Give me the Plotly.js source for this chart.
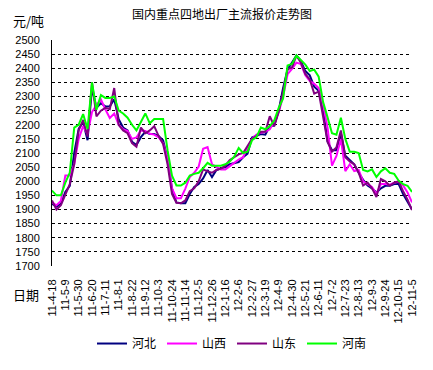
<!DOCTYPE html>
<html>
<head>
<meta charset="utf-8">
<script src="https://cdn.plot.ly/plotly-3.0.1.min.js"></script>
<style>html,body{margin:0;padding:0;background:#fff;}#chart{width:433px;height:370px;}</style>
</head>
<body>
<div id="chart"></div>
<script>
// Weekly sample dates
const dates = [
"2011-04-18","2011-04-25","2011-05-02","2011-05-09","2011-05-16","2011-05-23","2011-05-30","2011-06-06","2011-06-13","2011-06-20",
"2011-06-27","2011-07-04","2011-07-11","2011-07-18","2011-07-25","2011-08-01","2011-08-08","2011-08-15","2011-08-22","2011-08-29",
"2011-09-05","2011-09-12","2011-09-19","2011-09-26","2011-10-03","2011-10-10","2011-10-17","2011-10-24","2011-10-31","2011-11-07",
"2011-11-14","2011-11-21","2011-11-28","2011-12-05","2011-12-12","2011-12-19","2011-12-26","2012-01-02","2012-01-09","2012-01-16",
"2012-01-23","2012-01-30","2012-02-06","2012-02-13","2012-02-20","2012-02-27","2012-03-05","2012-03-12","2012-03-19","2012-03-26",
"2012-04-02","2012-04-09","2012-04-16","2012-04-23","2012-04-30","2012-05-07","2012-05-14","2012-05-21","2012-05-28","2012-06-04",
"2012-06-11","2012-06-18","2012-06-25","2012-07-02","2012-07-09","2012-07-16","2012-07-23","2012-07-30","2012-08-06","2012-08-13",
"2012-08-20","2012-08-27","2012-09-03","2012-09-10","2012-09-17","2012-09-24","2012-10-01","2012-10-08","2012-10-15","2012-10-22",
"2012-10-29","2012-11-05"];

const hebei = [
1920,1910,1920,1962,1984,2100,2185,2210,2145,2330,
2260,2276,2265,2265,2290,2220,2190,2180,2140,2128,
2156,2175,2167,2167,2160,2145,2080,1974,1925,1922,
1922,1955,1980,1990,2010,2040,2015,2040,2045,2050,
2060,2065,2068,2085,2098,2155,2160,2167,2165,2195,
2197,2250,2330,2396,2420,2445,2425,2390,2375,2335,
2320,2252,2140,2110,2110,2170,2090,2075,2060,2030,
2005,1985,1975,1960,1975,1984,1984,1990,1990,1955,
1925,1900];

const shanxi = [
1925,1915,1930,2020,2020,2060,2150,2195,2167,2245,
2270,2290,2255,2224,2240,2200,2184,2178,2150,2155,
2180,2178,2168,2165,2155,2135,2080,1975,1940,1940,
1974,2015,2030,2052,2115,2121,2060,2050,2042,2042,
2052,2065,2077,2085,2120,2150,2165,2172,2175,2184,
2210,2245,2300,2379,2398,2420,2415,2375,2355,2345,
2330,2270,2190,2055,2090,2150,2036,2060,2036,2040,
2000,1990,1980,1955,1990,1990,1988,1995,1998,1985,
1960,1925];

const shandong = [
1932,1900,1915,1955,1990,2060,2180,2217,2158,2350,
2230,2250,2260,2255,2330,2200,2180,2170,2135,2122,
2190,2170,2180,2195,2160,2132,2060,1955,1924,1922,
1932,1965,1975,2000,2042,2035,2030,2040,2045,2055,
2075,2085,2095,2100,2125,2150,2160,2175,2175,2230,
2195,2245,2317,2396,2403,2445,2420,2380,2360,2310,
2317,2235,2140,2105,2120,2180,2085,2070,2060,2030,
1985,1995,1975,1944,2008,2000,1984,1995,2000,1965,
1935,1898];

const henan = [
1967,1950,1950,1995,2030,2190,2200,2238,2185,2350,
2253,2305,2295,2295,2300,2250,2240,2225,2200,2180,
2210,2240,2205,2220,2220,2220,2110,2020,1985,1985,
1995,2020,2026,2030,2046,2065,2055,2055,2055,2060,
2070,2087,2118,2100,2105,2145,2156,2190,2184,2195,
2215,2260,2293,2410,2415,2445,2430,2413,2390,2395,
2370,2280,2226,2170,2165,2225,2150,2104,2104,2100,
2040,2035,2042,2015,2035,2046,2030,2026,2002,1990,
1984,1962];

const tickDates = ["2011-04-18","2011-05-09","2011-05-30","2011-06-20","2011-07-11","2011-08-01","2011-08-22","2011-09-12","2011-10-03","2011-10-24","2011-11-14","2011-12-05","2011-12-26","2012-01-16","2012-02-06","2012-02-27","2012-03-19","2012-04-09","2012-04-30","2012-05-21","2012-06-11","2012-07-02","2012-07-23","2012-08-13","2012-09-03","2012-09-24","2012-10-15","2012-11-05"];
const tickLabels = ["11-4-18","11-5-9","11-5-30","11-6-20","11-7-11","11-8-1","11-8-22","11-9-12","11-10-3","11-10-24","11-11-14","11-12-5","11-12-26","12-1-16","12-2-6","12-2-27","12-3-19","12-4-9","12-4-30","12-5-21","12-6-11","12-7-2","12-7-23","12-8-13","12-9-3","12-9-24","12-10-15","12-11-5"];

const seriesNames = ["河北","山西","山东","河南"];
const seriesColors = ["#000080","#FF00FF","#800080","#00FF00"];
const seriesData = [hebei, shanxi, shandong, henan];

const traces = seriesData.map((vals, i) => ({
  x: dates, y: vals, type: "scatter", mode: "lines", name: seriesNames[i],
  line: {color: seriesColors[i], width: 2}
}));

const cjk = '"Noto Sans CJK SC", sans-serif';
const latin = '"Liberation Sans", Arial, sans-serif';

const layout = {
  width: 433, height: 370,
  margin: {l: 52, r: 21, t: 40, b: 97},
  paper_bgcolor: "#fff", plot_bgcolor: "#fff",
  showlegend: true,
  title: {text: "国内重点四地出厂主流报价走势图", font: {family: cjk, size: 12, color: "#000"}, x: 0.513, xanchor: "center", y: 0.96, yanchor: "middle"},
  xaxis: {
    type: "date", range: ["2011-04-18", "2012-11-05"],
    tickvals: tickDates, ticktext: tickLabels, tickangle: -90,
    tickfont: {family: latin, size: 11, color: "#000"},
    ticks: "outside", ticklen: 8, tickcolor: "rgba(0,0,0,0)",
    showgrid: false, zeroline: false, showline: false
  },
  yaxis: {
    range: [1700, 2500], dtick: 50, tick0: 1700,
    tickfont: {family: latin, size: 11, color: "#000"},
    ticks: "outside", ticklen: 9, tickcolor: "rgba(0,0,0,0)",
    showgrid: true, gridcolor: "#000", gridwidth: 1, griddash: "3px,3px",
    showline: true, linecolor: "#000", linewidth: 1, zeroline: false
  },
  legend: {
    orientation: "h", x: 0.5, xanchor: "center", y: -0.343, yanchor: "middle",
    font: {family: cjk, size: 12, color: "#000"}, itemwidth: 30,
    entrywidth: 25, entrywidthmode: "pixels", bgcolor: "rgba(0,0,0,0)"
  },
  annotations: [
    {text: "元/吨", xref: "paper", yref: "paper", x: -0.064, y: 1.086, xanchor: "center", yanchor: "middle", showarrow: false, font: {family: cjk, size: 13, color: "#000"}},
    {text: "日期", xref: "paper", yref: "paper", x: -0.072, y: -0.124, xanchor: "center", yanchor: "middle", showarrow: false, font: {family: cjk, size: 13, color: "#000"}}
  ]
};

Plotly.newPlot("chart", traces, layout, {staticPlot: true, displayModeBar: false});
</script>
</body>
</html>
